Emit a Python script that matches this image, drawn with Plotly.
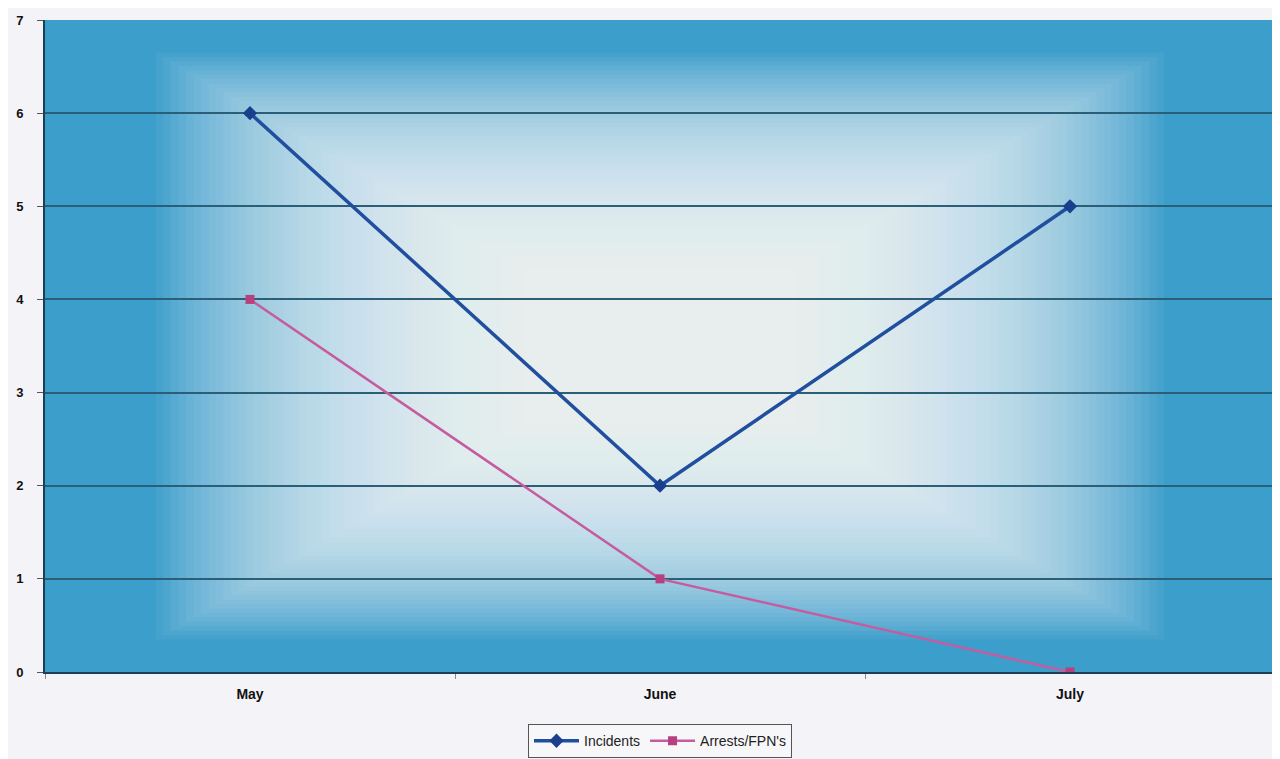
import plotly.graph_objects as go

months = ["May", "June", "July"]
incidents = [6, 2, 5]
arrests = [4, 1, 0]
y_ticks = [0, 1, 2, 3, 4, 5, 6, 7]

fig = go.Figure()

fig.add_trace(go.Scatter(
    x=months, y=incidents, name="Incidents", mode="lines+markers",
    line=dict(color="#1f4f9e", width=3.5),
    marker=dict(symbol="diamond", size=11, color="#1a3f8c"),
))
fig.add_trace(go.Scatter(
    x=months, y=arrests, name="Arrests/FPN's", mode="lines+markers",
    line=dict(color="#c65ca0", width=2.5),
    marker=dict(symbol="square", size=9, color="#b8407f"),
))

# rectangular "from centre" gradient background
shapes = []
N = 50
outer_x, outer_y = 0.41, 0.45
inner_x, inner_y = 0.11, 0.12
for k in range(N):
    t = k / (N - 1)
    hx = outer_x + (inner_x - outer_x) * t
    hy = outer_y + (inner_y - outer_y) * t
    shapes.append(dict(
        type="rect", xref="x domain", yref="y domain",
        x0=0.5 - hx, x1=0.5 + hx, y0=0.50 - hy, y1=0.50 + hy,
        fillcolor="white", opacity=0.05, line=dict(width=0), layer="below",
    ))

fig.update_layout(
    width=1272, height=751,
    paper_bgcolor="#f4f3f8",
    plot_bgcolor="#3b9ecb",
    margin=dict(l=37, r=5, t=12, b=87, autoexpand=False),
    shapes=shapes,
    font=dict(family="Liberation Sans, Arial, sans-serif", color="#111111"),
    legend=dict(
        orientation="h", x=0.5, xanchor="center", y=-0.08, yanchor="top",
        bgcolor="#f7f7fa", bordercolor="#555555", borderwidth=1,
        font=dict(size=14, color="#222222"), itemwidth=45,
    ),
    showlegend=True,
)
fig.update_xaxes(
    type="category", range=[-0.5, 2.5], automargin=False,
    showgrid=False, showline=True, linecolor="#1d3f55", linewidth=2,
    ticks="outside", tickson="boundaries", ticklen=5, tickcolor="#888888",
    tickfont=dict(size=14, family="Liberation Sans, Arial", color="#111111", weight="bold"),
    ticklabelstandoff=8,
)
fig.update_yaxes(
    range=[0, 7], tickvals=y_ticks, showgrid=True, gridcolor="#2b5f78", gridwidth=1.5,
    showline=True, linecolor="#1d3f55", linewidth=2, zeroline=False, automargin=False,
    ticks="outside", ticklen=6, tickcolor="#555555",
    tickfont=dict(size=13, family="Liberation Sans, Arial", color="#111111", weight="bold"),
    ticklabelstandoff=11,
)

fig.write_html("out.html")
